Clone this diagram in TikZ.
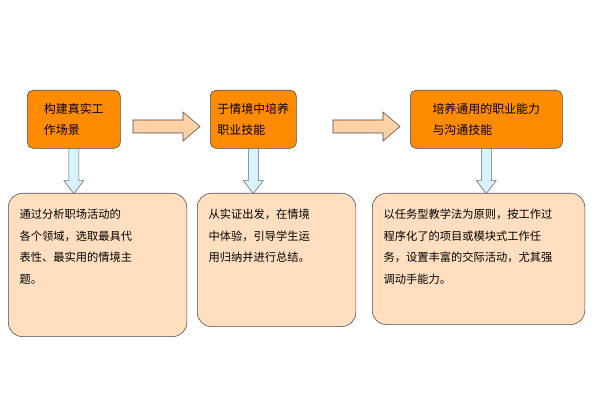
\documentclass[tikz,border=0pt]{standalone}
\usepackage{fontspec}
\newfontfamily\cjk{Noto Sans CJK SC}
\tikzset{
  topbox/.style={draw=black!70,fill=orange!90!yellow,rounded corners=4pt,
    inner sep=4pt,align=left,anchor=north west,font=\cjk\fontsize{8.5}{15}\selectfont},
  textbox/.style={draw=black!70,fill=orange!25!white,rounded corners=10pt,
    inner xsep=8pt,inner ysep=4pt,anchor=north west,font=\cjk\fontsize{8}{15.5}\selectfont},
  bigarrow/.style={draw=black!70,fill=orange!35!white},
  downarrow/.style={draw=black!60,fill=cyan!15}
}
\newcommand\boxtext[3]{\parbox[t][#2][t]{#1}{\vspace{7pt}#3}}
\begin{document}
\begin{tikzpicture}[x=0.025cm,y=-0.025cm]
\useasboundingbox (0,0) rectangle (600,400);
% top row
\node[topbox,minimum width=2.325cm,minimum height=1.45cm] (t1) at (27,90) {构建真实工\\作场景};
\node[topbox,minimum width=2.15cm,minimum height=1.45cm] (t2) at (210,90) {于情境中培养\\职业技能};
\node[topbox,minimum width=3.8cm,minimum height=1.45cm] (t3) at (410,90) {培养通用的职业能力\\与沟通技能};
% bottom row
\node[textbox] (b1) at (8,193)
  {\boxtext{3.9cm}{3.3cm}{通过分析职场活动的\\各个领域，选取最具代\\表性、最实用的情境主\\题。}};
\node[textbox] (b2) at (197,193)
  {\boxtext{3.4cm}{3.05cm}{从实证出发，在情境\\中体验，引导学生运\\用归纳并进行总结。}};
\node[textbox] (b3) at (372,193)
  {\boxtext{4.75cm}{3cm}{以任务型教学法为原则，按工作过\\程序化了的项目或模块式工作任\\务，设置丰富的交际活动，尤其强\\调动手能力。}};
% block arrows between the top boxes
\foreach \x in {133,333}{
  \draw[bigarrow] (\x,120) -- ++(50,0) -- ++(0,-8) -- ++(17,14.5) -- ++(-17,14.5)
    -- ++(0,-8) -- ++(-50,0) -- cycle;
}
% down arrows into the text boxes
\foreach \t/\b in {t1/b1,t2/b2,t3/b3}{
  \coordinate (\t s) at (\t.south);
  \draw[downarrow] ([xshift=-5*0.025cm]\t s) -- ++(0,32) -- ++(-5,0) -- ++(10,13)
    -- ++(10,-13) -- ++(-5,0) -- ++(0,-32) -- cycle;
}
\end{tikzpicture}
\end{document}
